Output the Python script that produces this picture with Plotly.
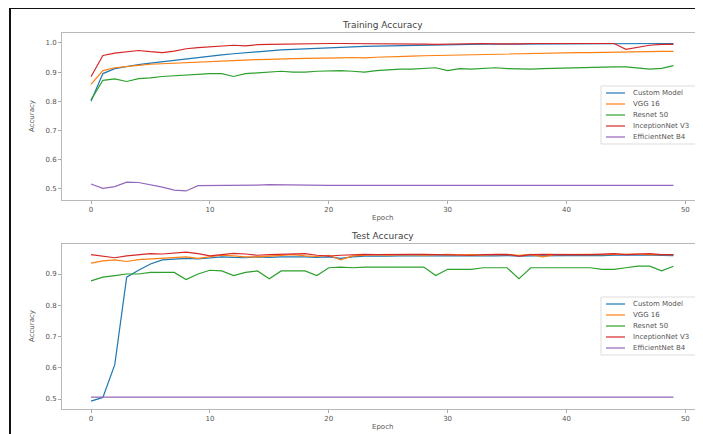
import plotly.graph_objects as go

epochs = list(range(50))
model_names = ["Custom Model", "VGG 16", "Resnet 50", "InceptionNet V3", "EfficientNet B4"]
tick_epochs = [0, 10, 20, 30, 40, 50]

train_custom = [0.800, 0.895, 0.912, 0.920, 0.926, 0.931, 0.936, 0.940, 0.945, 0.950,
                0.955, 0.959, 0.963, 0.967, 0.970, 0.973, 0.976, 0.978, 0.980, 0.982,
                0.984, 0.986, 0.987, 0.988, 0.989, 0.990, 0.991, 0.992, 0.993, 0.994,
                0.994, 0.995, 0.995, 0.996, 0.996, 0.996, 0.997, 0.997, 0.997, 0.998,
                0.998, 0.998, 0.998, 0.998, 0.998, 0.998, 0.997, 0.998, 0.998, 0.998]
train_vgg = [0.858, 0.905, 0.915, 0.920, 0.923, 0.927, 0.929, 0.930, 0.933, 0.935,
             0.937, 0.938, 0.940, 0.942, 0.943, 0.944, 0.946, 0.946, 0.947, 0.947,
             0.948, 0.949, 0.950, 0.949, 0.951, 0.953, 0.954, 0.955, 0.956, 0.957,
             0.958, 0.959, 0.960, 0.961, 0.962, 0.963, 0.963, 0.964, 0.965, 0.965,
             0.966, 0.967, 0.967, 0.968, 0.968, 0.969, 0.970, 0.970, 0.971, 0.971]
train_resnet = [0.805, 0.872, 0.877, 0.868, 0.878, 0.880, 0.885, 0.888, 0.890, 0.893,
                0.895, 0.895, 0.885, 0.895, 0.898, 0.900, 0.903, 0.900, 0.900, 0.903,
                0.905, 0.905, 0.903, 0.900, 0.905, 0.908, 0.910, 0.910, 0.912, 0.915,
                0.905, 0.912, 0.910, 0.913, 0.915, 0.912, 0.910, 0.910, 0.912, 0.913,
                0.915, 0.917, 0.918, 0.918, 0.918, 0.918, 0.915, 0.910, 0.913, 0.922]
train_inception = [0.884, 0.957, 0.965, 0.970, 0.974, 0.970, 0.967, 0.972, 0.980, 0.984,
                   0.986, 0.990, 0.992, 0.990, 0.994, 0.995, 0.996, 0.996, 0.997, 0.997,
                   0.998, 0.998, 0.998, 0.997, 0.998, 0.998, 0.996, 0.997, 0.996, 0.995,
                   0.996, 0.997, 0.998, 0.998, 0.997, 0.996, 0.997, 0.998, 0.998, 0.998,
                   0.998, 0.998, 0.998, 0.998, 0.998, 0.978, 0.984, 0.992, 0.995, 0.995]
train_efficient = [0.517, 0.502, 0.508, 0.523, 0.522, 0.515, 0.506, 0.496, 0.493, 0.511,
                   0.511, 0.511, 0.511, 0.512, 0.513, 0.515, 0.514, 0.513, 0.512, 0.512,
                   0.512, 0.512, 0.512, 0.512, 0.512, 0.512, 0.512, 0.512, 0.512, 0.512,
                   0.512, 0.512, 0.512, 0.512, 0.512, 0.512, 0.512, 0.512, 0.512, 0.512,
                   0.512, 0.512, 0.512, 0.512, 0.512, 0.512, 0.512, 0.512, 0.512, 0.512]

test_custom = [0.493, 0.505, 0.610, 0.890, 0.912, 0.932, 0.945, 0.948, 0.950, 0.948,
               0.952, 0.955, 0.953, 0.952, 0.955, 0.953, 0.955, 0.956, 0.955, 0.953,
               0.955, 0.950, 0.955, 0.957, 0.956, 0.957, 0.958, 0.957, 0.958, 0.958,
               0.957, 0.958, 0.959, 0.958, 0.958, 0.959, 0.957, 0.958, 0.959, 0.958,
               0.959, 0.959, 0.958, 0.959, 0.960, 0.959, 0.960, 0.960, 0.959, 0.959]
test_vgg = [0.935, 0.942, 0.945, 0.940, 0.946, 0.948, 0.950, 0.952, 0.955, 0.950,
            0.955, 0.960, 0.958, 0.955, 0.955, 0.958, 0.960, 0.962, 0.958, 0.956,
            0.960, 0.945, 0.958, 0.960, 0.962, 0.960, 0.961, 0.962, 0.960, 0.962,
            0.963, 0.961, 0.962, 0.960, 0.963, 0.962, 0.960, 0.963, 0.955, 0.962,
            0.963, 0.962, 0.963, 0.962, 0.963, 0.962, 0.964, 0.962, 0.963, 0.962]
test_resnet = [0.878, 0.890, 0.895, 0.900, 0.900, 0.905, 0.905, 0.905, 0.882, 0.900,
               0.912, 0.910, 0.895, 0.905, 0.910, 0.885, 0.910, 0.910, 0.910, 0.895,
               0.920, 0.922, 0.920, 0.922, 0.922, 0.922, 0.922, 0.922, 0.922, 0.895,
               0.915, 0.915, 0.915, 0.920, 0.920, 0.920, 0.885, 0.920, 0.920, 0.920,
               0.922, 0.920, 0.920, 0.915, 0.915, 0.920, 0.925, 0.925, 0.910, 0.925]
test_inception = [0.962, 0.958, 0.952, 0.958, 0.962, 0.965, 0.964, 0.966, 0.970, 0.965,
                  0.958, 0.962, 0.966, 0.964, 0.960, 0.962, 0.963, 0.962, 0.965, 0.960,
                  0.957, 0.960, 0.962, 0.963, 0.962, 0.963, 0.962, 0.963, 0.963, 0.962,
                  0.963, 0.962, 0.960, 0.962, 0.963, 0.963, 0.957, 0.962, 0.963, 0.962,
                  0.963, 0.962, 0.962, 0.963, 0.965, 0.962, 0.963, 0.965, 0.962, 0.962]
test_efficient = [0.506] * 50

colors = ["#1f77b4", "#ff7f0e", "#2ca02c", "#d62728", "#9467bd"]

train_series = [train_custom, train_vgg, train_resnet, train_inception, train_efficient]
test_series = [test_custom, test_vgg, test_resnet, test_inception, test_efficient]

fig = go.Figure()
for name, ys, c in zip(model_names, train_series, colors):
    fig.add_trace(go.Scatter(x=epochs, y=ys, mode="lines", name=name,
                             line=dict(color=c, width=1.2), xaxis="x", yaxis="y",
                             showlegend=False))
for name, ys, c in zip(model_names, test_series, colors):
    fig.add_trace(go.Scatter(x=epochs, y=ys, mode="lines", name=name,
                             line=dict(color=c, width=1.2), xaxis="x2", yaxis="y2",
                             showlegend=False))

# page has an 8px body margin: figure origin is at page (8, 8)
OFF = 8
W, H = 695, 426
L, R, T, B = 54, 1, 25, 25
ph = H - T - B
pw = W - L - R


def fy(page_y):
    return (H - B - (page_y - OFF)) / ph


def fx(page_x):
    return (page_x - OFF - L) / pw


tick_font = dict(family="DejaVu Sans", size=7, color="#555")
axis_common = dict(showline=True, mirror=True, linecolor="#b8b8b8", linewidth=1,
                   ticks="outside", ticklen=3, tickcolor="#aaa", tickfont=tick_font,
                   showgrid=False, zeroline=False)

fig.update_layout(
    width=W, height=H,
    margin=dict(l=L, r=R, t=T, b=B),
    paper_bgcolor="white", plot_bgcolor="white",
    showlegend=False,
    xaxis=dict(domain=[0, 1], anchor="y", range=[-2.44, 51.4], tickvals=tick_epochs, **axis_common),
    yaxis=dict(domain=[fy(200), 1], anchor="x", range=[0.462, 1.034],
               tickvals=[0.5, 0.6, 0.7, 0.8, 0.9, 1.0], tickformat=".1f", **axis_common),
    xaxis2=dict(domain=[0, 1], anchor="y2", range=[-2.44, 51.4], tickvals=tick_epochs, **axis_common),
    yaxis2=dict(domain=[0, fy(244)], anchor="x2", range=[0.468, 0.996],
                tickvals=[0.5, 0.6, 0.7, 0.8, 0.9], tickformat=".1f", **axis_common),
)

label_font = dict(family="DejaVu Sans", size=7, color="#555")
title_font = dict(family="DejaVu Sans", size=9, color="#444")
ann = [
    dict(text="Training Accuracy", x=0.5, y=fy(25), font=title_font),
    dict(text="Test Accuracy", x=0.5, y=fy(236), font=title_font),
    dict(text="Epoch", x=fx(382), y=fy(218), font=label_font),
    dict(text="Epoch", x=fx(382), y=fy(427), font=label_font),
    dict(text="Accuracy", x=fx(32), y=fy(116), font=label_font, textangle=-90),
    dict(text="Accuracy", x=fx(32), y=fy(326), font=label_font, textangle=-90),
]
for a in ann:
    fig.add_annotation(xref="paper", yref="paper", showarrow=False,
                       xanchor="center", yanchor="middle", **a)

# compact matplotlib-style legends (one per panel)
for first_y in (93, 304):
    step = 11
    fig.add_shape(type="rect", xref="paper", yref="paper",
                  x0=fx(601), x1=fx(701), y0=fy(first_y - 7), y1=fy(first_y + 4 * step + 7),
                  line=dict(color="#dddddd", width=1), fillcolor="white", layer="above")
    for i, (name, c) in enumerate(zip(model_names, colors)):
        yy = first_y + i * step
        fig.add_shape(type="line", xref="paper", yref="paper",
                      x0=fx(606), x1=fx(625), y0=fy(yy), y1=fy(yy),
                      line=dict(color=c, width=1.2), layer="above")
        fig.add_annotation(xref="paper", yref="paper", showarrow=False,
                           x=fx(631), y=fy(yy), xanchor="left", yanchor="middle",
                           text=name, font=label_font)

# outer black frame of the image
fig.add_shape(type="rect", xref="paper", yref="paper",
              x0=fx(10), x1=fx(720), y0=fy(450), y1=fy(8),
              line=dict(color="#111", width=2), layer="above")

fig.write_html("out.html")
